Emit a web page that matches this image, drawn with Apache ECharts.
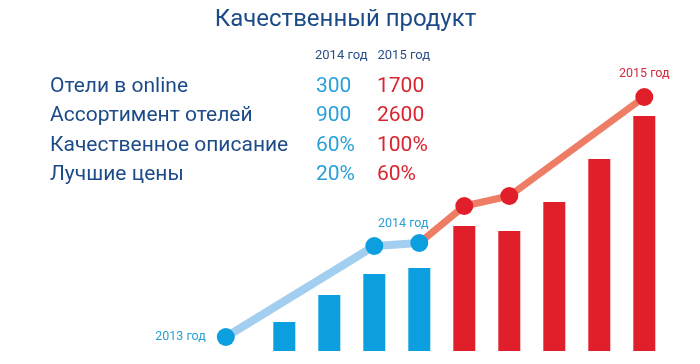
<!DOCTYPE html>
<html><head><meta charset="utf-8">
<script src="https://cdn.jsdelivr.net/npm/echarts@6/dist/echarts.min.js"></script>
<style>html,body{margin:0;padding:0;background:#fff}#c{width:700px;height:364px}</style>
</head><body><div id="c"></div>
<script>
const titleText = 'Качественный продукт';
const yearHeaders = ['2014 год', '2015 год'];
const rowLabels = ['Отели в online', 'Ассортимент отелей', 'Качественное описание', 'Лучшие цены'];
const values2014 = ['300', '900', '60%', '20%'];
const values2015 = ['1700', '2600', '100%', '60%'];

// bars: position on the x value axis and height
const barX = [1, 2, 3, 4, 5, 6, 7, 8, 9];
const barValues = [29, 56, 77, 83, 125, 120, 149, 192, 235];
const barYearIs2015 = [false, false, false, false, true, true, true, true, true];

// line points
const blueLineX = [-0.3, 3, 4];
const blueLineY = [14, 105, 108];
const redLineX = [4, 5, 6, 9];
const redLineY = [108, 145, 155, 254];
const pointLabels = {'2013': '2013 год', '2014': '2014 год', '2015': '2015 год'};

const C_TITLE = '#1c4b87', C_BLUE = '#0b9fdf', C_RED = '#e11f2b';
const C_BLUE_TXT = '#2aa0d6', C_RED_TXT = '#d8252f';

const chart = echarts.init(document.getElementById('c'), null, {renderer: 'canvas'});
const FONT = 'Roboto';

const graphics = [];
graphics.push({type: 'text', style: {text: titleText, x: 345.5, y: 19.5, font: '24px ' + FONT, fill: C_TITLE, textAlign: 'center', textVerticalAlign: 'middle'}});
graphics.push({type: 'text', style: {text: yearHeaders[0], x: 315, y: 56, font: '13px ' + FONT, fill: '#2a4f86', textAlign: 'left', textVerticalAlign: 'middle'}});
graphics.push({type: 'text', style: {text: yearHeaders[1], x: 377.5, y: 56, font: '13px ' + FONT, fill: '#2a4f86', textAlign: 'left', textVerticalAlign: 'middle'}});
const rowY = [86.8, 116.2, 145.4, 174.5];
rowLabels.forEach((t, i) => {
  graphics.push({type: 'text', style: {text: t, x: 50, y: rowY[i], font: '21px ' + FONT, fill: C_TITLE, textAlign: 'left', textVerticalAlign: 'middle'}});
  graphics.push({type: 'text', style: {text: values2014[i], x: 316, y: rowY[i], font: '21px ' + FONT, fill: C_BLUE_TXT, textAlign: 'left', textVerticalAlign: 'middle'}});
  graphics.push({type: 'text', style: {text: values2015[i], x: 377, y: rowY[i], font: '21px ' + FONT, fill: C_RED_TXT, textAlign: 'left', textVerticalAlign: 'middle'}});
});

const barData = barX.map((x, i) => ({value: [x, barValues[i]], itemStyle: {color: barYearIs2015[i] ? C_RED : C_BLUE}}));

const blueData = blueLineX.map((x, i) => [x, blueLineY[i]]);
blueData[0] = {value: blueData[0], label: {show: true, position: 'left', distance: 11, formatter: pointLabels['2013'], color: C_BLUE_TXT, fontSize: 12.5, fontFamily: FONT}};
blueData[2] = {value: blueData[2], label: {show: true, position: 'top', distance: 4, offset: [-16, 0], formatter: pointLabels['2014'], color: C_BLUE_TXT, fontSize: 12.5, fontFamily: FONT}};

const redData = redLineX.map((x, i) => [x, redLineY[i]]);
redData[0] = {value: redData[0], symbol: 'none'};
redData[3] = {value: redData[3], label: {show: true, position: 'top', distance: 8, formatter: pointLabels['2015'], color: '#d22c3c', fontSize: 12.5, fontFamily: FONT}};

chart.setOption({
  animation: false,
  grid: {left: 194.3, right: 10.7, top: 51, bottom: 13},
  xAxis: {type: 'value', min: -1, max: 10, show: false},
  yAxis: {type: 'value', min: 0, max: 300, show: false},
  graphic: graphics,
  series: [
    {type: 'bar', data: barData, barWidth: 22, z: 1},
    {type: 'line', data: redData, symbol: 'circle', symbolSize: 18, lineStyle: {color: '#ee7d66', width: 7}, itemStyle: {color: C_RED}, z: 2},
    {type: 'line', data: blueData, symbol: 'circle', symbolSize: 18, lineStyle: {color: '#a2cfef', width: 8}, itemStyle: {color: C_BLUE}, z: 3}
  ]
});
</script></body></html>
